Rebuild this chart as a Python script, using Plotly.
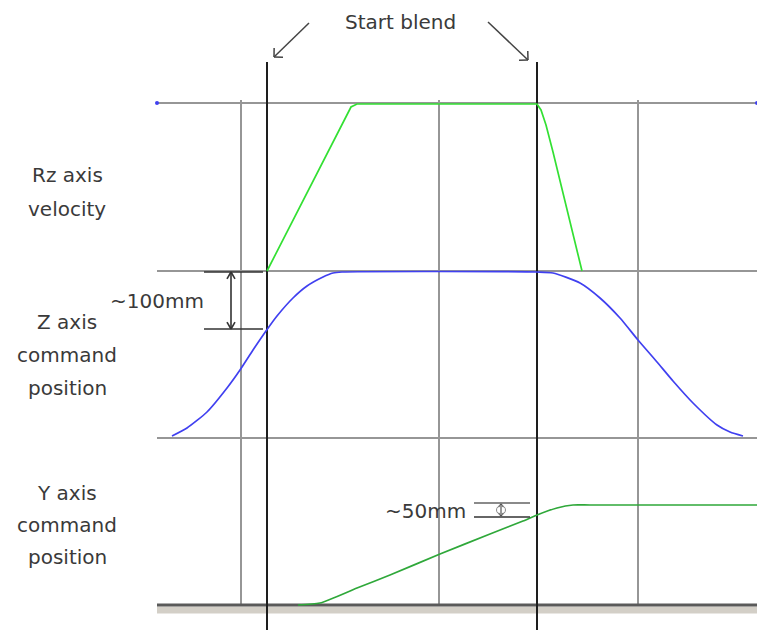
import math
import plotly.graph_objects as go

W, H = 757, 630

# ---- layout of the timing diagram (drawing units = canvas pixels) ----
rail_y = [103, 271, 438]          # upper rail of each panel
rail_x = [157, 757]
base_y = 605                      # bottom rail of the Y panel
grid_x = [241, 439, 638]          # light time grid
grid_span = [100, 605]
blend_x = [267, 537]              # the two "start blend" instants
blend_span = [62, 630]

# ---- Rz axis velocity (trapezoid) ----
rz_vel_x = [267, 347, 351, 357, 537, 541, 546, 553, 570, 582]
rz_vel_y = [271, 115, 107, 104, 104, 110, 125, 152, 223, 271]

# ---- Z axis command position (S-curve up, hold, S-curve down) ----
z_pos_x = [172, 187, 207, 227, 240, 253, 266, 277, 293, 307, 323, 333, 342,
           537, 553, 580, 600, 620, 638, 657, 673, 693, 717, 730, 743]
z_pos_y = [436, 428, 412, 388, 370, 350, 331, 316, 298, 286, 277, 273, 272,
           272, 273, 283, 298, 318, 340, 362, 381, 403, 425, 432, 436]

# ---- Y axis command position (ramp then hold) ----
y_pos_x = [298, 320, 357, 390, 440, 490, 523, 537, 557, 573, 590, 757]
y_pos_y = [605, 603, 588, 575, 554, 534, 521, 515, 508, 505, 505, 505]

# ---- dimension marks ----
dim100_y = [272, 329]
dim100_x = [204, 263]
dim100_arrow_x = 231
dim50_y = [503, 517]
dim50_x = [474, 530]
dim50_arrow_x = 501

# ---- "Start blend" pointers: (x0, y0, x1, y1) ----
pointers = [(309, 23, 274, 57), (488, 22, 528, 60)]

# ---- text ----
label_text = ["Rz axis", "velocity",
              "Z axis", "command", "position",
              "Y axis", "command", "position"]
label_y = [175, 209, 322, 355, 388, 493, 525, 557]
label_x = 67
title_text = "Start blend"
dim_text = ["~100mm", "~50mm"]

FONT = "DejaVu Sans"
TXT = "#3a3a3a"


def segs(pairs):
    xs, ys = [], []
    for (x0, y0, x1, y1) in pairs:
        xs += [x0, x1, None]
        ys += [y0, y1, None]
    return xs, ys


def head(x0, y0, x1, y1, length, half_angle_deg):
    """Two barbs of an open arrowhead at (x1, y1) for a shaft from (x0, y0)."""
    a = math.atan2(y0 - y1, x0 - x1)
    h = math.radians(half_angle_deg)
    out = []
    for s in (-1, 1):
        out.append((x1, y1, x1 + length * math.cos(a + s * h),
                    y1 + length * math.sin(a + s * h)))
    return out


fig = go.Figure()


def add_lines(xs, ys, color, width, shape="linear"):
    line = dict(color=color, width=width, shape=shape)
    if shape == "spline":
        line["smoothing"] = 0.6
    fig.add_trace(go.Scatter(x=xs, y=ys, mode="lines", line=line,
                             hoverinfo="skip", showlegend=False))


# grid
gx, gy = segs([(x, grid_span[0], x, grid_span[1]) for x in grid_x])
add_lines(gx, gy, "#969696", 2)
rx, ry = segs([(rail_x[0], y, rail_x[1], y) for y in rail_y])
add_lines(rx, ry, "#969696", 2)

# base rail with its shadow band
add_lines(rail_x, [base_y + 5, base_y + 5], "#d3cfc7", 7)
add_lines(rail_x, [base_y, base_y], "#5a5a5a", 3)

# start-blend verticals
bx, by = segs([(x, blend_span[0], x, blend_span[1]) for x in blend_x])
add_lines(bx, by, "#1e1e1e", 2)

# signals
add_lines(rz_vel_x, rz_vel_y, "#33e033", 1.7)
add_lines(z_pos_x, z_pos_y, "#4040f0", 1.7, "spline")
add_lines(y_pos_x, y_pos_y, "#2fa83a", 1.7, "spline")

# rail end dots
fig.add_trace(go.Scatter(x=rail_x, y=[rail_y[0]] * 2, mode="markers",
                         marker=dict(color="#4040f0", size=4),
                         hoverinfo="skip", showlegend=False))

# ~100mm dimension
d = [(dim100_x[0], y, dim100_x[1], y) for y in dim100_y]
d.append((dim100_arrow_x, dim100_y[0], dim100_arrow_x, dim100_y[1]))
d += head(dim100_arrow_x, dim100_y[1], dim100_arrow_x, dim100_y[0], 8, 30)
d += head(dim100_arrow_x, dim100_y[0], dim100_arrow_x, dim100_y[1], 8, 30)
dx, dy = segs(d)
add_lines(dx, dy, "#333333", 1.6)

# ~50mm dimension
add_lines(dim50_x, [dim50_y[0]] * 2, "#8a8a8a", 2)
add_lines(dim50_x, [dim50_y[1]] * 2, "#333333", 1.6)
d = [(dim50_arrow_x, dim50_y[0] + 1, dim50_arrow_x, dim50_y[1] - 1)]
d += head(dim50_arrow_x, dim50_y[1], dim50_arrow_x, dim50_y[0] + 1, 4, 40)
d += head(dim50_arrow_x, dim50_y[0], dim50_arrow_x, dim50_y[1] - 1, 4, 40)
dx, dy = segs(d)
add_lines(dx, dy, "#555555", 1.2)
fig.add_trace(go.Scatter(x=[dim50_arrow_x], y=[sum(dim50_y) / 2], mode="markers",
                         marker=dict(symbol="circle-open", size=9, color="#8a8a8a",
                                     line=dict(color="#8a8a8a", width=1)),
                         hoverinfo="skip", showlegend=False))

# start-blend pointers
p = []
for (x0, y0, x1, y1) in pointers:
    p.append((x0, y0, x1, y1))
    p += head(x0, y0, x1, y1, 9, 45)
px, py = segs(p)
add_lines(px, py, "#444444", 1.5)

# texts
ann = [dict(x=400, y=22, text=title_text, xanchor="center", yanchor="middle")]
for t, y in zip(label_text, label_y):
    ann.append(dict(x=label_x, y=y, text=t, xanchor="center", yanchor="middle"))
ann.append(dict(x=206, y=301, text=dim_text[0], xanchor="right", yanchor="middle"))
ann.append(dict(x=468, y=511, text=dim_text[1], xanchor="right", yanchor="middle"))
for a in ann:
    a.update(showarrow=False, xref="x", yref="y",
             font=dict(family=FONT, size=20, color=TXT))

fig.update_layout(
    width=W, height=H,
    margin=dict(l=0, r=0, t=0, b=0),
    paper_bgcolor="white", plot_bgcolor="white",
    xaxis=dict(range=[0, W], visible=False, fixedrange=True),
    yaxis=dict(range=[H, 0], visible=False, fixedrange=True),
    annotations=ann,
)

fig.write_html("out.html")
